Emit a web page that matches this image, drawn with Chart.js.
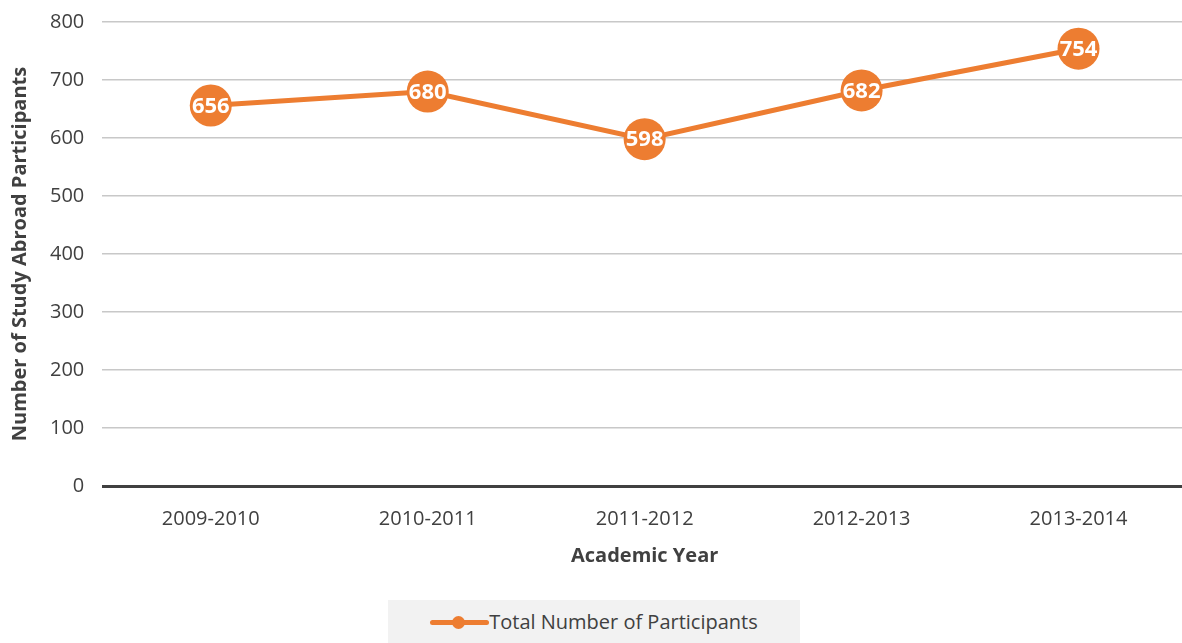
<!DOCTYPE html>
<html>
<head>
<meta charset="utf-8">
<script src="https://cdn.jsdelivr.net/npm/chart.js@4"></script>
<style>
  html, body { margin: 0; padding: 0; background: #fff; overflow: hidden; }
  #wrap { position: relative; width: 1182px; height: 643px; overflow: hidden; }
  #chartBox { position: absolute; left: 0; top: -8px; width: 1187px; height: 583px; }
  #legend {
    position: absolute; left: 388px; top: 600px; width: 412px; height: 43px;
    background: #f2f2f2; font-family: "Open Sans", sans-serif; font-size: 20px; color: #404040;
    display: flex; align-items: center; justify-content: center;
  }
  #legend .sym { position: relative; width: 59px; height: 14px; margin-right: 0; }
  #legend .sym .ln { position: absolute; left: 0; right: 0; top: 5px; height: 5px; border-radius: 3px; background: #ed7d31; }
  #legend .sym .dot { position: absolute; left: 22px; top: 1px; width: 13px; height: 13px; border-radius: 50%; background: #ed7d31; }
</style>
</head>
<body>
<div id="wrap">
  <div id="chartBox"><canvas id="chart"></canvas></div>
  <div id="legend"><span class="sym"><span class="ln"></span><span class="dot"></span></span><span>Total Number of Participants</span></div>
</div>
<script>
const years = ['2009-2010', '2010-2011', '2011-2012', '2012-2013', '2013-2014'];
const participants = [656, 680, 598, 682, 754];
const yTicks = [0, 100, 200, 300, 400, 500, 600, 700, 800];

const orange = '#ed7d31';
const textColour = '#404040';
const fontFamily = '"Open Sans", sans-serif';

// write the value inside each marker
const pointLabels = {
  id: 'pointLabels',
  afterDatasetsDraw(chart) {
    const ctx = chart.ctx;
    const meta = chart.getDatasetMeta(0);
    ctx.save();
    ctx.fillStyle = '#fff';
    ctx.font = 'bold 22px ' + fontFamily;
    ctx.textAlign = 'center';
    ctx.textBaseline = 'middle';
    meta.data.forEach((pt, i) => {
      ctx.fillText(participants[i], pt.x, pt.y + 1);
    });
    ctx.restore();
  }
};

new Chart(document.getElementById('chart'), {
  type: 'line',
  data: {
    labels: years,
    datasets: [{
      label: 'Total Number of Participants',
      data: participants,
      borderColor: orange,
      backgroundColor: orange,
      borderWidth: 5,
      pointRadius: 21,
      pointHoverRadius: 21,
      pointBorderWidth: 0,
      tension: 0,
    }],
  },
  options: {
    responsive: true,
    maintainAspectRatio: false,
    animation: false,
    layout: { autoPadding: false, padding: { top: 5, right: 0, left: 0, bottom: 0 } },
    plugins: {
      legend: { display: false },
      tooltip: { enabled: false },
    },
    scales: {
      x: {
        offset: true,
        grid: { display: false },
        border: { display: false },
        ticks: { color: textColour, font: { family: fontFamily, size: 20 }, padding: 13 },
        title: {
          display: true, text: 'Academic Year', color: textColour,
          font: { family: fontFamily, size: 20, weight: 'bold' }, padding: { top: 0, bottom: 7 },
        },
      },
      y: {
        min: 0,
        max: 800,
        afterBuildTicks: (axis) => { axis.ticks = yTicks.map(v => ({ value: v })); },
        grid: {
          color: (c) => c.tick && c.tick.value === 0 ? '#404040' : '#c8c8c8',
          lineWidth: (c) => c.tick && c.tick.value === 0 ? 3 : 1.5,
          drawTicks: false,
        },
        border: { display: false },
        ticks: { color: textColour, font: { family: fontFamily, size: 20 }, padding: 18 },
        title: {
          display: true, text: 'Number of Study Abroad Participants', color: textColour,
          font: { family: fontFamily, size: 20, weight: 'bold' }, padding: { top: 8, bottom: 0 },
        },
      },
    },
  },
  plugins: [pointLabels],
});
</script>
</body>
</html>
